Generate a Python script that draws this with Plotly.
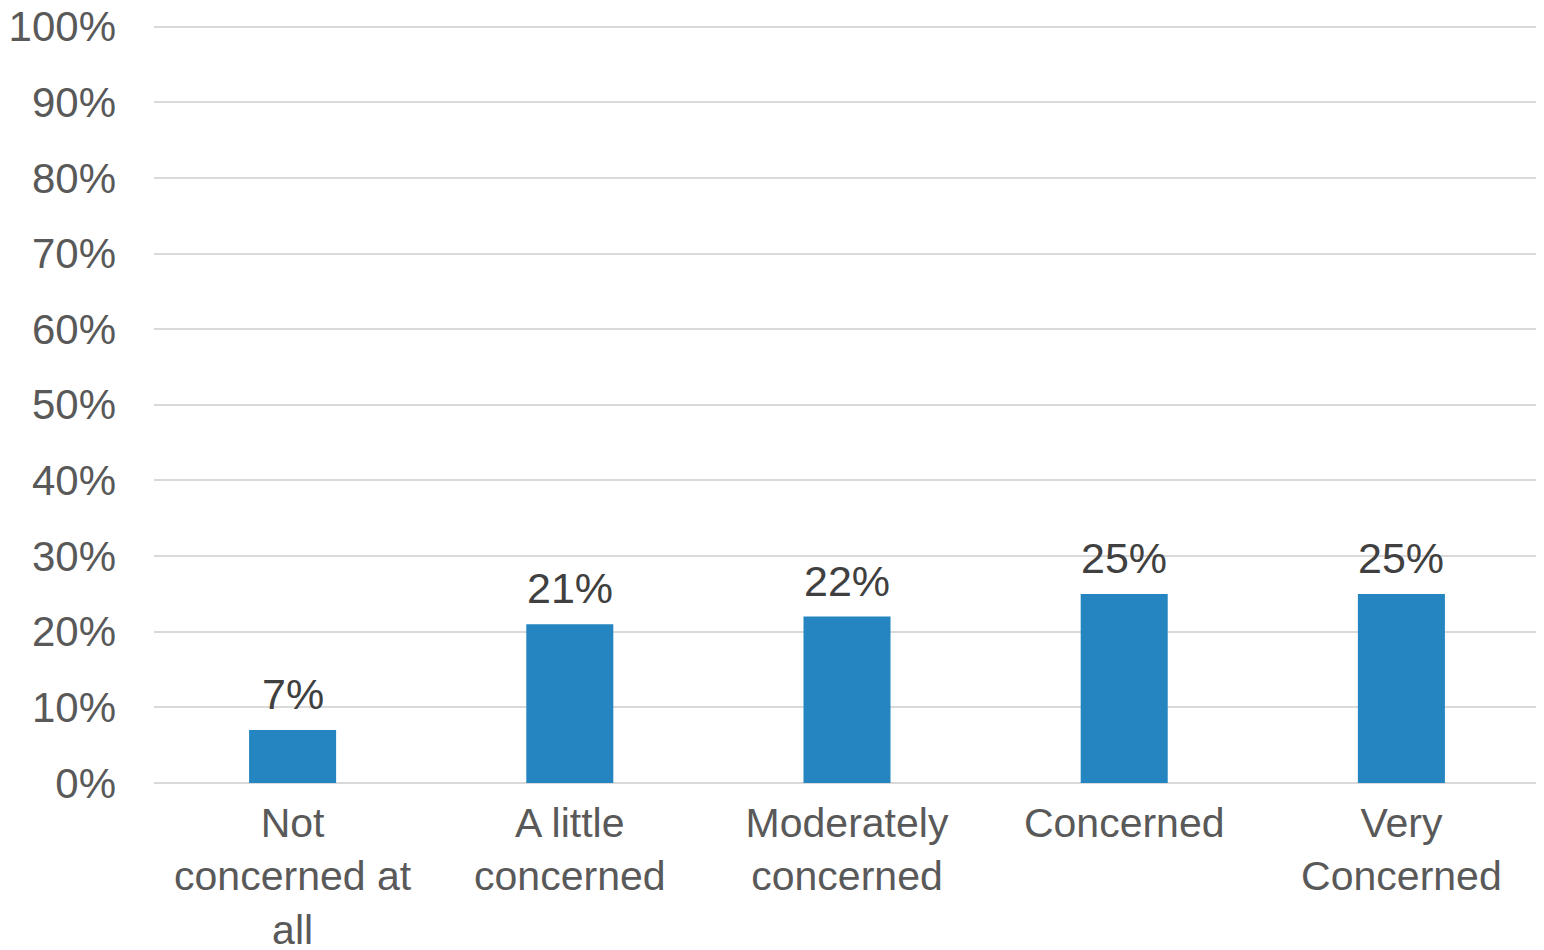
import plotly.graph_objects as go

categories = ["Not<br>concerned at<br>all", "A little<br>concerned", "Moderately<br>concerned", "Concerned", "Very<br>Concerned"]
values = [0.07, 0.21, 0.22, 0.25, 0.25]
y_ticks = [0, 0.1, 0.2, 0.3, 0.4, 0.5, 0.6, 0.7, 0.8, 0.9, 1.0]

FONT = "Liberation Sans, Arial, sans-serif"

fig = go.Figure()
fig.add_trace(go.Bar(
    x=categories,
    y=values,
    marker=dict(color="#2585C0", line=dict(width=0)),
    hoverinfo="skip",
))

for c, v in zip(categories, values):
    fig.add_annotation(
        x=c, y=v, xref="x", yref="y",
        text=f"{v:.0%}", showarrow=False,
        yanchor="bottom", yshift=10,
        font=dict(family=FONT, size=43, color="#404040"),
    )

fig.update_layout(
    width=1536, height=950,
    margin=dict(l=146, r=4, t=11.4, b=175, autoexpand=False),
    paper_bgcolor="white", plot_bgcolor="white",
    bargap=0.686,
    showlegend=False,
    font=dict(family=FONT, size=41, color="#595959"),
)
fig.update_yaxes(
    range=[0, 1.01], tickvals=y_ticks, tickformat=".0%",
    showgrid=True, gridcolor="#D9D9D9", gridwidth=1.5,
    zeroline=True, zerolinecolor="#D9D9D9", zerolinewidth=1.5,
    showline=False, ticks="", ticklabelstandoff=37, automargin=False,
    ticklabeloverflow="allow",
    tickfont=dict(family=FONT, size=42, color="#595959"),
)
fig.update_xaxes(
    showgrid=False, showline=False, ticks="", ticklabelstandoff=12, automargin=False,
    ticklabeloverflow="allow",
    tickfont=dict(family=FONT, size=41, color="#595959"),
)

fig.write_html("out.html")
